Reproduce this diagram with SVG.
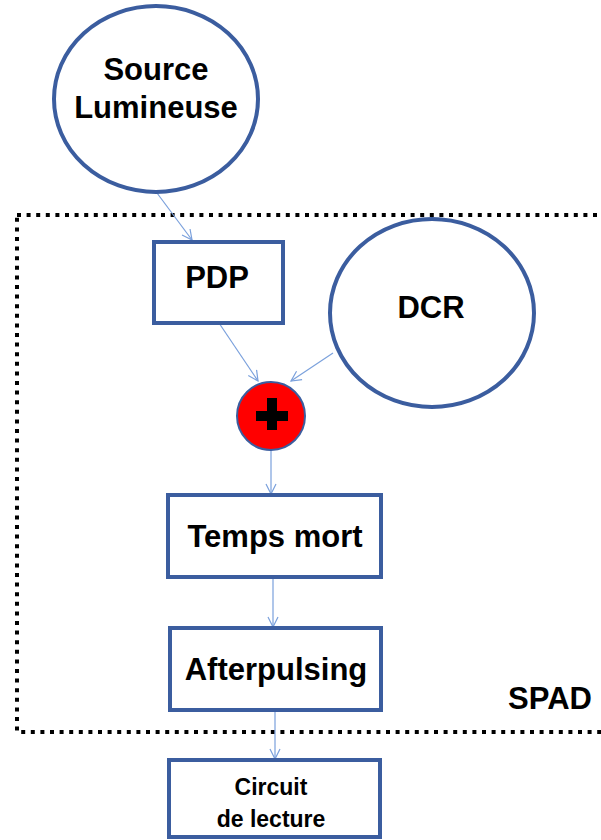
<svg xmlns="http://www.w3.org/2000/svg" width="601" height="840" viewBox="0 0 601 840">
<style>
.node{fill:#fff;stroke:#3b5d9f;stroke-width:4}
.lbl{font-family:"Liberation Sans",Arial,sans-serif;font-weight:bold;fill:#000;text-anchor:middle}
.big{font-size:31px}
.small{font-size:23px}
.conn{fill:none;stroke:#7aa0dc;stroke-width:1.2}
</style>
<defs>
<marker id="arr" viewBox="0 0 12 12" refX="11" refY="6" markerWidth="12" markerHeight="12" markerUnits="userSpaceOnUse" orient="auto">
<path d="M1,1 L11,6 L1,11" fill="none" stroke="#7aa0dc" stroke-width="1.2"/>
</marker>
</defs>
<rect id="spad-frame" x="17" y="215" width="600" height="517" fill="none" stroke="#000" stroke-width="4" stroke-dasharray="4 5.6"/>
<text class="lbl big" x="550" y="709">SPAD</text>
<g id="connectors">
<line class="conn" x1="157" y1="193" x2="192" y2="240" marker-end="url(#arr)"/>
<line class="conn" x1="219" y1="323" x2="258" y2="381" marker-end="url(#arr)"/>
<line class="conn" x1="333" y1="353" x2="291" y2="381" marker-end="url(#arr)"/>
<line class="conn" x1="271" y1="450" x2="271" y2="494" marker-end="url(#arr)"/>
<line class="conn" x1="273" y1="577" x2="273" y2="627" marker-end="url(#arr)"/>
<line class="conn" x1="275" y1="707" x2="275" y2="759" marker-end="url(#arr)"/>
</g>
<g id="source">
<ellipse class="node" cx="156" cy="99" rx="102" ry="93"/>
<text class="lbl big" x="156" y="80">Source</text>
<text class="lbl big" x="156" y="118">Lumineuse</text>
</g>
<g id="pdp">
<rect class="node" x="154" y="242" width="129" height="81"/>
<text class="lbl big" x="217" y="288">PDP</text>
</g>
<g id="dcr">
<ellipse class="node" cx="432" cy="313" rx="102" ry="94"/>
<text class="lbl big" x="431" y="318">DCR</text>
</g>
<g id="plus">
<circle cx="271" cy="416" r="34" fill="#ff0000" stroke="#3b5d9f" stroke-width="2"/>
<rect x="256" y="411" width="32" height="10" fill="#000"/>
<rect x="267" y="398" width="10" height="32" fill="#000"/>
</g>
<g id="temps-mort">
<rect class="node" x="168" y="495" width="213" height="82"/>
<text class="lbl big" x="275" y="547">Temps mort</text>
</g>
<g id="afterpulsing">
<rect class="node" x="170" y="628" width="211" height="82"/>
<text class="lbl big" x="276" y="680">Afterpulsing</text>
</g>
<g id="circuit">
<rect class="node" x="169" y="760" width="211" height="77"/>
<text class="lbl small" x="271" y="795">Circuit</text>
<text class="lbl small" x="271" y="827">de lecture</text>
</g>
</svg>
